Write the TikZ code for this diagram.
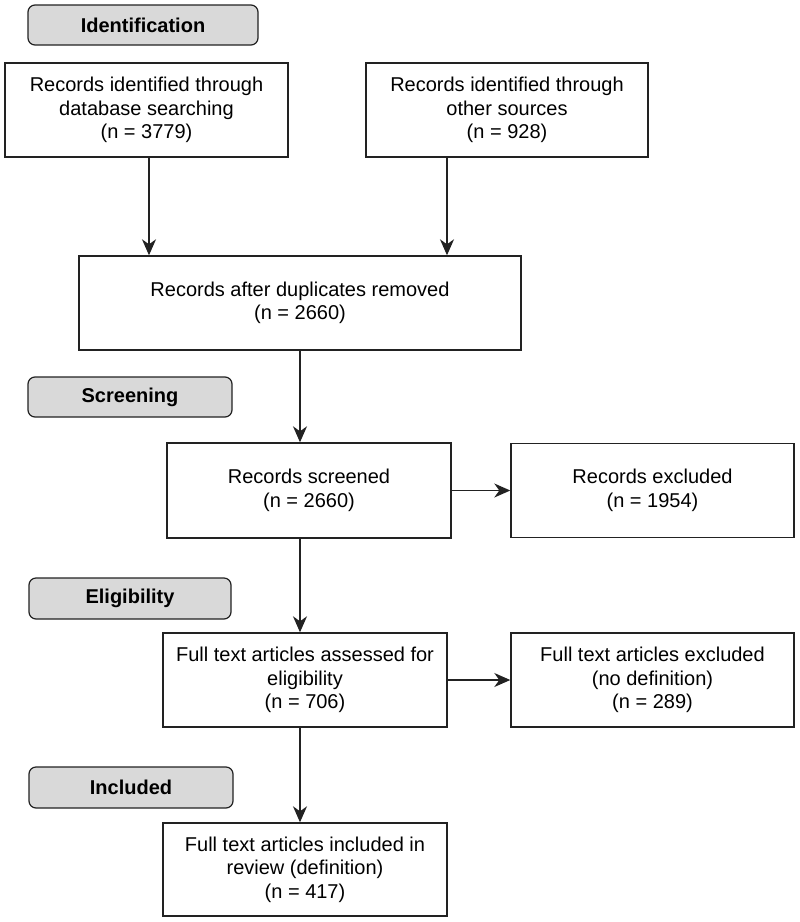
\documentclass[tikz,border=0pt]{standalone}
\usepackage{fontspec}
\setmainfont{Liberation Sans}
\usetikzlibrary{arrows.meta,calc}
\definecolor{labfill}{HTML}{D9D9D9}
\definecolor{linec}{HTML}{222222}
\begin{document}
\begin{tikzpicture}[x=1pt,y=-1pt,
  every node/.style={font=\fontsize{20}{23.5}\selectfont, align=center, inner sep=0pt},
  box/.style={draw=linec, line width=1.4pt, fill=white},
  stage/.style={draw=linec, line width=1.2pt, fill=labfill, rounded corners=7pt, font=\fontsize{20}{23.5}\selectfont\bfseries},
  arr/.style={draw=linec, line width=1.4pt, -{Stealth[length=16pt,width=14pt,inset=5pt]}}]
\useasboundingbox[fill=white] (0,0) rectangle (800,922);

\node[stage, minimum width=230pt, minimum height=40pt] (l1) at (143,25) {Identification};
\node[stage, minimum width=204pt, minimum height=40pt] (l2) at (130,397) {Screening};
\node[stage, minimum width=202pt, minimum height=41pt] (l3) at (130,598.5) {Eligibility};
\node[stage, minimum width=204pt, minimum height=41pt] (l4) at (131,787.5) {Included};

\node[box, minimum width=283pt, minimum height=94pt] (b1) at (146.5,110) {Records identified through\\database searching\\(n = 3779)};
\node[box, minimum width=282pt, minimum height=94pt] (b2) at (507,110) {Records identified through\\other sources\\(n = 928)};
\node[box, minimum width=442pt, minimum height=94pt] (b3) at (300,303) {Records after duplicates removed\\(n = 2660)};
\node[box, minimum width=284pt, minimum height=95pt] (b4) at (309,490.5) {Records screened\\(n = 2660)};
\node[box, minimum width=283pt, minimum height=94pt] (b5) at (652.5,490.5) {Records excluded\\(n = 1954)};
\node[box, minimum width=284pt, minimum height=94pt] (b6) at (305,680) {Full text articles assessed for\\eligibility\\(n = 706)};
\node[box, minimum width=283pt, minimum height=94pt] (b7) at (652.5,680) {Full text articles excluded\\(no definition)\\(n = 289)};
\node[box, minimum width=284pt, minimum height=93pt] (b8) at (305,869.5) {Full text articles included in\\review (definition)\\(n = 417)};

\draw[arr] ([xshift=2.5pt]b1.south) -- ([xshift=2.5pt]b1.south |- b3.north);
\draw[arr] ([xshift=-60pt]b2.south) -- ([xshift=-60pt]b2.south |- b3.north);
\draw[arr] (b3.south) -- (b3.south |- b4.north);
\draw[arr] (b4.east) -- (b5.west);
\draw[arr] (b4.south -| b3.south) -- (b3.south |- b6.north);
\draw[arr] (b6.east) -- (b7.west);
\draw[arr] (b6.south -| b3.south) -- (b3.south |- b8.north);
\end{tikzpicture}
\end{document}
